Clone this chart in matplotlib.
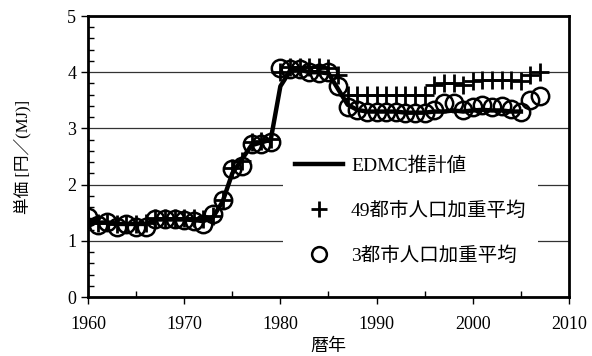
import numpy as np
import matplotlib
matplotlib.use('Agg')
import matplotlib.pyplot as plt
from matplotlib.ticker import MultipleLocator

plt.rcParams['font.family'] = ['Liberation Serif', 'Noto Sans CJK JP']

# EDMC estimate (line)
edmc_years = list(range(1960, 2006))
edmc_vals = [1.38, 1.32, 1.33, 1.30, 1.30, 1.30, 1.30, 1.38, 1.38, 1.38,
             1.38, 1.37, 1.35, 1.42, 1.70, 2.20, 2.45, 2.70, 2.75, 2.80,
             3.75, 4.02, 4.05, 4.00, 4.00, 3.98, 3.70, 3.42, 3.33, 3.30,
             3.30, 3.30, 3.30, 3.28, 3.28, 3.28, 3.30, 3.30, 3.32, 3.30,
             3.32, 3.33, 3.32, 3.32, 3.30, 3.30]

# 49-city population weighted average (+)
years = list(range(1960, 2008))
city49 = [1.38, 1.32, 1.33, 1.30, 1.30, 1.30, 1.32, 1.40, 1.40, 1.40,
          1.40, 1.40, 1.38, 1.45, 1.72, 2.30, 2.42, 2.75, 2.77, 2.82,
          4.00, 4.10, 4.10, 4.10, 4.10, 4.08, 3.95, 3.60, 3.60, 3.60,
          3.60, 3.60, 3.60, 3.60, 3.60, 3.60, 3.78, 3.80, 3.80, 3.78,
          3.85, 3.87, 3.87, 3.87, 3.87, 3.85, 3.95, 4.01]

# 3-city population weighted average (o)
city3 = [1.42, 1.28, 1.33, 1.25, 1.30, 1.25, 1.25, 1.38, 1.38, 1.38,
         1.37, 1.36, 1.30, 1.48, 1.73, 2.27, 2.33, 2.73, 2.72, 2.75,
         4.07, 4.05, 4.05, 4.00, 3.98, 4.00, 3.75, 3.38, 3.33, 3.30,
         3.30, 3.30, 3.30, 3.28, 3.27, 3.28, 3.32, 3.45, 3.45, 3.33,
         3.38, 3.42, 3.38, 3.40, 3.35, 3.30, 3.50, 3.57]

fig = plt.figure(figsize=(5.92, 3.56), dpi=100)
ax = fig.add_axes([0.1486, 0.1657, 0.8125, 0.7893])

ax.plot(edmc_years, edmc_vals, color='black', lw=3.2, label='EDMC推計値', zorder=3)
ax.plot(years, city49, ls='none', marker='+', ms=13, mew=2, color='black',
        label='49都市人口加重平均', zorder=4)
ax.plot(years, city3, ls='none', marker='o', ms=12.5, mew=1.8, mfc='none',
        mec='black', label='3都市人口加重平均', zorder=5)

ax.set_xlim(1960, 2010)
ax.set_ylim(0, 5)
ax.xaxis.set_major_locator(MultipleLocator(10))
ax.xaxis.set_minor_locator(MultipleLocator(5))
ax.yaxis.set_major_locator(MultipleLocator(1))
ax.yaxis.set_minor_locator(MultipleLocator(0.2))
ax.tick_params(which='major', direction='out', length=5, width=1, labelsize=13)
ax.tick_params(which='minor', direction='in', length=4, width=1)
ax.tick_params(axis='x', pad=9)
for s in ax.spines.values():
    s.set_linewidth(2)

ax.grid(axis='y', which='major', color='#333333', lw=0.9)
ax.set_axisbelow(True)

ax.set_xlabel('暦年', fontsize=13, labelpad=3)
ax.set_ylabel('単価 [円／(MJ)]', fontsize=12, labelpad=26)

leg = ax.legend(loc='upper left', bbox_to_anchor=(0.385, 0.575), fontsize=14,
                frameon=True, facecolor='white', edgecolor='none', framealpha=1,
                fancybox=False, handlelength=2.5, handletextpad=0.4,
                labelspacing=1.35, borderpad=0.6, markerscale=0.85)
leg.set_zorder(6)

fig.savefig('out.png', dpi=100)
